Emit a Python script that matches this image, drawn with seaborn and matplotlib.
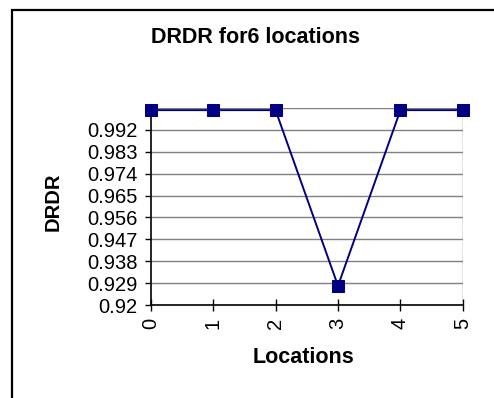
import matplotlib
matplotlib.use("Agg")
import matplotlib.pyplot as plt
import matplotlib.patches as mpatches
import seaborn as sns
import pandas as pd

title = "DRDR for6 locations"
x_label = "Locations"
y_label = "DRDR"
locations = [0, 1, 2, 3, 4, 5]
drdr = [1.0, 1.0, 1.0, 0.928, 1.0, 1.0]
ytick_labels = ["0.92", "0.929", "0.938", "0.947", "0.956", "0.965", "0.974", "0.983", "0.992"]
y_max = 1.001

sns.set_style("white")
plt.rcParams['font.family'] = ['Liberation Sans', 'DejaVu Sans']
plt.rcParams['text.color'] = 'black'
plt.rcParams['xtick.color'] = 'black'
plt.rcParams['ytick.color'] = 'black'
plt.rcParams['axes.labelcolor'] = 'black'

df = pd.DataFrame({"Locations": locations, "DRDR": drdr})

fig = plt.figure(figsize=(4.94, 3.98), dpi=100)
ax = fig.add_axes([0.305, 0.2329, 0.632, 0.4965])

# outer border
fig.patches.append(mpatches.Rectangle((12 / 494, -0.2), 1.3, 1.2 - 10 / 398,
                                      transform=fig.transFigure, fill=False,
                                      edgecolor="black", linewidth=1.6, zorder=10))

sns.lineplot(data=df, x="Locations", y="DRDR", ax=ax, color="#000080",
             marker="s", markersize=8, markeredgecolor="#000080",
             linewidth=1.4, clip_on=False, zorder=5)
for l in ax.lines:
    l.set_clip_on(False)

yticks = [float(t) for t in ytick_labels]
ax.set_xlim(0, 5)
ax.set_ylim(yticks[0], y_max)
ax.set_yticks(yticks)
ax.set_yticklabels(ytick_labels, fontsize=14.5)
ax.set_xticks(locations)
ax.set_xticklabels([str(v) for v in locations], rotation=90, fontsize=14.5)

for v in yticks[1:] + [y_max]:
    ax.axhline(v, color="#808080", linewidth=1.0, zorder=1)
ax.axvline(5, color="#808080", linewidth=1.0, zorder=1)

for s in ["top", "right"]:
    ax.spines[s].set_visible(False)
for s in ["left", "bottom"]:
    ax.spines[s].set_color("black")
    ax.spines[s].set_linewidth(1.2)

ax.tick_params(axis="y", direction="out", length=4.5, width=1, color="black", pad=5, left=True)
ax.tick_params(axis="x", direction="inout", length=8.5, width=1, color="black", pad=5, bottom=True)

ax.set_xlabel("")
ax.set_ylabel("")
fig.text(0.517, 0.906, title, ha="center", va="center", fontsize=15.5, fontweight="bold")
fig.text(0.107, 0.492, y_label, ha="center", va="center", rotation=90, fontsize=14.5, fontweight="bold")
fig.text(0.615, 0.101, x_label, ha="center", va="center", fontsize=15.5, fontweight="bold")

fig.savefig("out.png", dpi=100)
